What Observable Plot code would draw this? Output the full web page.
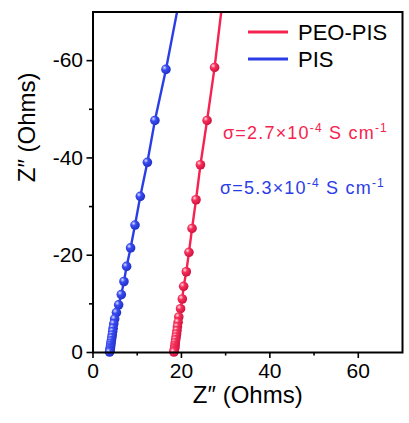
<!DOCTYPE html>
<html><head><meta charset="utf-8">
<script src="https://cdn.jsdelivr.net/npm/d3@7"></script>
<script src="https://cdn.jsdelivr.net/npm/@observablehq/plot@0.6"></script>
<style>body{margin:0;background:#fff} svg{display:block}</style>
</head><body><div id="chart"></div>
<script>
// PIS (blue) impedance points: Z' and Z''
const pisZre = [16.5, 14.0, 12.3, 10.7, 9.5, 8.5, 7.6, 7.0, 6.4, 5.8, 5.3, 4.9, 4.7, 4.55, 4.45, 4.35, 4.25, 4.15, 4.05, 4.0, 3.95, 3.9, 3.85, 3.8, 3.75];
const pisZim = [-58.2, -47.7, -39.1, -32.1, -26.2, -21.5, -17.7, -14.6, -11.9, -9.8, -8.2, -6.9, -5.9, -5.0, -4.3, -3.6, -3.0, -2.4, -1.9, -1.5, -1.1, -0.8, -0.5, -0.3, -0.1];
// PEO-PIS (red) impedance points
const peoZre = [27.5, 25.8, 24.3, 23.3, 22.4, 21.7, 21.1, 20.5, 20.2, 19.8, 19.4, 19.25, 19.1, 19.0, 18.9, 18.8, 18.7, 18.6, 18.55, 18.5, 18.45, 18.4, 18.35, 18.3];
const peoZim = [-58.6, -47.7, -38.6, -31.4, -25.5, -20.6, -16.6, -13.6, -11.0, -9.0, -7.3, -6.2, -5.3, -4.5, -3.8, -3.2, -2.6, -2.0, -1.5, -1.1, -0.8, -0.5, -0.3, -0.1];
// fitted-line end points at the top of the frame
const pisFitTop = [19.0, -70];
const peoFitTop = [29.0, -70];

const seriesNames = ["PEO-PIS", "PIS"];
const seriesColors = ["#f5234f", "#2b3de6"];
const sigmaMantissa = ["2.7", "5.3"];
const sigmaExponent = ["-4", "-4"];
const unitExponent = "-1";

const xTicks = [0, 20, 40, 60];
const xMinor = [10, 30, 50];
const yTicks = [0, -20, -40, -60];
const yMinor = [-10, -30, -50];
const axisLabel = "Z\u2033 (Ohms)";

const toPts = (re, im) => re.map((x, i) => ({x, y: im[i]}));
const pisPts = toPts(pisZre, pisZim);
const peoPts = toPts(peoZre, peoZim);
const pisLine = [{x: pisFitTop[0], y: pisFitTop[1]}, ...pisPts];
const peoLine = [{x: peoFitTop[0], y: peoFitTop[1]}, ...peoPts];

const font = "'Liberation Sans', Arial, Helvetica, sans-serif";

const plot = Plot.plot({
  width: 409, height: 423,
  marginLeft: 92.5, marginRight: 7, marginTop: 11.5, marginBottom: 71,
  x: {domain: [0, 70]},
  y: {domain: [0, -70]},
  style: {fontFamily: font, color: "#000", background: "#fff"},
  marks: [
    Plot.line(pisLine, {x: "x", y: "y", stroke: seriesColors[1], strokeWidth: 2.4, clip: true}),
    Plot.line(peoLine, {x: "x", y: "y", stroke: seriesColors[0], strokeWidth: 2.4, clip: true}),
    Plot.dot(pisPts, {x: "x", y: "y", r: 4.8, fill: "url(#gradB)", stroke: "none"}),
    Plot.dot(peoPts, {x: "x", y: "y", r: 4.8, fill: "url(#gradR)", stroke: "none"}),
    Plot.axisX({ticks: xTicks, tickSize: 6, tickPadding: 5, fontSize: 21, label: null, tickFormat: d => String(d), strokeWidth: 1.6}),
    Plot.axisX({ticks: xMinor, tickSize: 3.5, tickFormat: () => "", label: null, strokeWidth: 1.6}),
    Plot.axisY({ticks: yTicks, tickSize: 6, tickPadding: 4, fontSize: 21, label: null, tickFormat: d => String(d), strokeWidth: 1.6}),
    Plot.axisY({ticks: yMinor, tickSize: 3.5, tickFormat: () => "", label: null, strokeWidth: 1.6}),
    Plot.frame({stroke: "#000", strokeWidth: 2}),
    Plot.text([axisLabel], {frameAnchor: "bottom", dy: 50, fontSize: 24}),
    Plot.text([axisLabel], {frameAnchor: "left", dx: -66, rotate: -90, fontSize: 24})
  ]
});
document.getElementById("chart").appendChild(plot);

const svg = d3.select(plot);
const defs = svg.insert("defs", ":first-child");
function grad(id, light, mid, dark) {
  const g = defs.append("radialGradient").attr("id", id)
    .attr("cx", "35%").attr("cy", "35%").attr("r", "70%").attr("fx", "35%").attr("fy", "32%");
  g.append("stop").attr("offset", "0%").attr("stop-color", light);
  g.append("stop").attr("offset", "35%").attr("stop-color", mid);
  g.append("stop").attr("offset", "100%").attr("stop-color", dark);
}
grad("gradB", "#dfe3ff", "#3a4cf2", "#1e2ec4");
grad("gradR", "#ffe0e8", "#f6305a", "#cc103d");

// legend
const leg = svg.append("g").attr("font-family", font).attr("text-anchor", "start");
[[32, 39.5], [59, 66.5]].forEach(([ly, ty], i) => {
  leg.append("line").attr("x1", 248).attr("x2", 288).attr("y1", ly).attr("y2", ly)
    .attr("stroke", seriesColors[i]).attr("stroke-width", 3);
  leg.append("text").attr("x", 298).attr("y", ty).attr("font-size", 22).attr("fill", "#000").text(seriesNames[i]);
});

// conductivity annotations
function sigma(x, y, i) {
  const t = svg.append("text").attr("x", x).attr("y", y).attr("fill", seriesColors[i])
    .attr("text-anchor", "start").attr("font-family", font).attr("font-size", 18)
    .attr("letter-spacing", 1.2);
  t.append("tspan").text(`\u03c3=${sigmaMantissa[i]}\u00d710`);
  t.append("tspan").attr("dy", -7).attr("font-size", 12).text(sigmaExponent[i]);
  t.append("tspan").attr("dy", 7).text(" S cm");
  t.append("tspan").attr("dy", -7).attr("font-size", 12).text(unitExponent);
}
sigma(223, 139, 0);
sigma(220, 194, 1);
</script>
</body></html>
